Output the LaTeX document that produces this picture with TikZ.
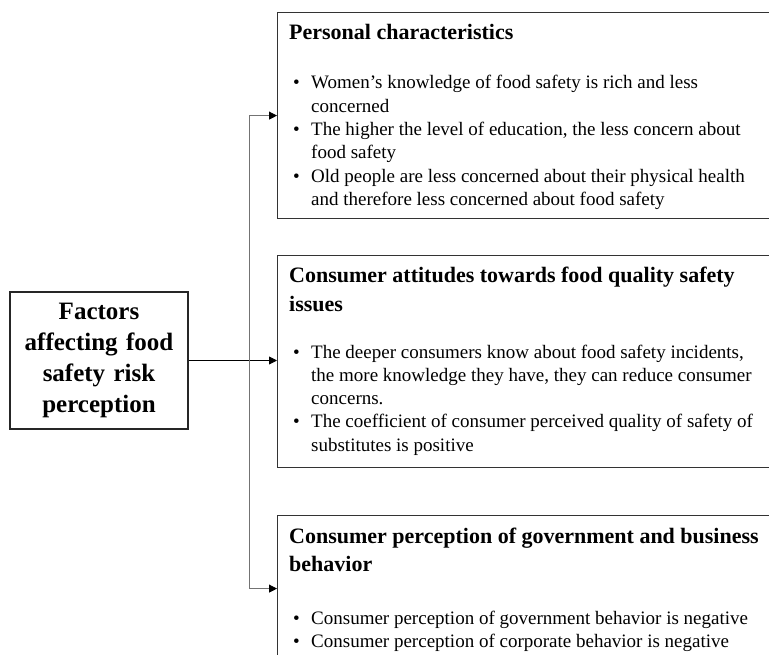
\documentclass[tikz,border=0pt]{standalone}
\usepackage{fontspec}
\setmainfont{Liberation Serif}
\usetikzlibrary{arrows.meta}

\newcommand{\bul}{\textbullet}

\tikzset{
	factorbox/.style={draw=black!85, line width=1.4pt, inner sep=0pt, align=center, text width=170pt,
		font={\fontsize{25pt}{31pt}\selectfont\bfseries}},
	groupbox/.style={draw=black!80, line width=1.2pt, inner sep=0pt, anchor=north west, minimum width=510pt},
	grouptitle/.style={anchor=base west, inner sep=0pt,
		font={\fontsize{22pt}{28.5pt}\selectfont\bfseries}},
	grouplist/.style={anchor=base west, inner sep=0pt,
		font={\fontsize{19pt}{23.3pt}\selectfont}},
	mainline/.style={draw=black, line width=0.9pt, -{Triangle[length=8pt,width=8pt]}},
	branchline/.style={draw=black!55, line width=0.9pt, -{Triangle[length=8pt,width=8pt,color=black]}}
}

\begin{document}
\begin{tikzpicture}[x=1pt,y=-1pt]
	\useasboundingbox (0,0) rectangle (769,655);
	% left box
	\node[factorbox, minimum width=178pt, minimum height=137pt] (factors) at (99,360.5)
		{Factors\\affecting food\\safety risk\\perception};
	% right boxes
	\node[groupbox, minimum height=206pt] (box1) at (277,12) {};
	\node[groupbox, minimum height=212pt] (box2) at (277,255) {};
	\node[groupbox, minimum height=146pt] (box3) at (277,515) {};
	% texts
	\node[grouptitle] (title1) at (289,40) {\begin{tabular}[t]{@{}l@{}}Personal characteristics\end{tabular}};
	\node[grouplist] (list1) at (289,89) {\begin{tabular}[t]{@{\hspace{4pt}}p{18pt}@{}l@{}}
		\bul & Women’s knowledge of food safety is rich and less\\
		     & concerned\\
		\bul & The higher the level of education, the less concern about\\
		     & food safety\\
		\bul & Old people are less concerned about their physical health\\
		     & and therefore less concerned about food safety
		\end{tabular}};
	\node[grouptitle] (title2) at (289,283) {\begin{tabular}[t]{@{}l@{}}Consumer attitudes towards food quality safety\\issues\end{tabular}};
	\node[grouplist] (list2) at (289,358) {\begin{tabular}[t]{@{\hspace{4pt}}p{18pt}@{}l@{}}
		\bul & The deeper consumers know about food safety incidents,\\
		     & the more knowledge they have, they can reduce consumer\\
		     & concerns.\\
		\bul & The coefficient of consumer perceived quality of safety of\\
		     & substitutes is positive
		\end{tabular}};
	\node[grouptitle] (title3) at (289,543) {\begin{tabular}[t]{@{}l@{}}Consumer perception of government and business\\behavior\end{tabular}};
	\node[grouplist] (list3) at (289,624) {\begin{tabular}[t]{@{\hspace{4pt}}p{18pt}@{}l@{}}
		\bul & Consumer perception of government behavior is negative\\
		\bul & Consumer perception of corporate behavior is negative
		\end{tabular}};
	% connectors
	\coordinate (split) at (249,360.5);
	\draw[mainline] (factors.east) -- (factors.east -| box2.west);
	\draw[branchline] (split) |- (box1.west);
	\draw[branchline] (split) |- (box3.west);
\end{tikzpicture}
\end{document}
